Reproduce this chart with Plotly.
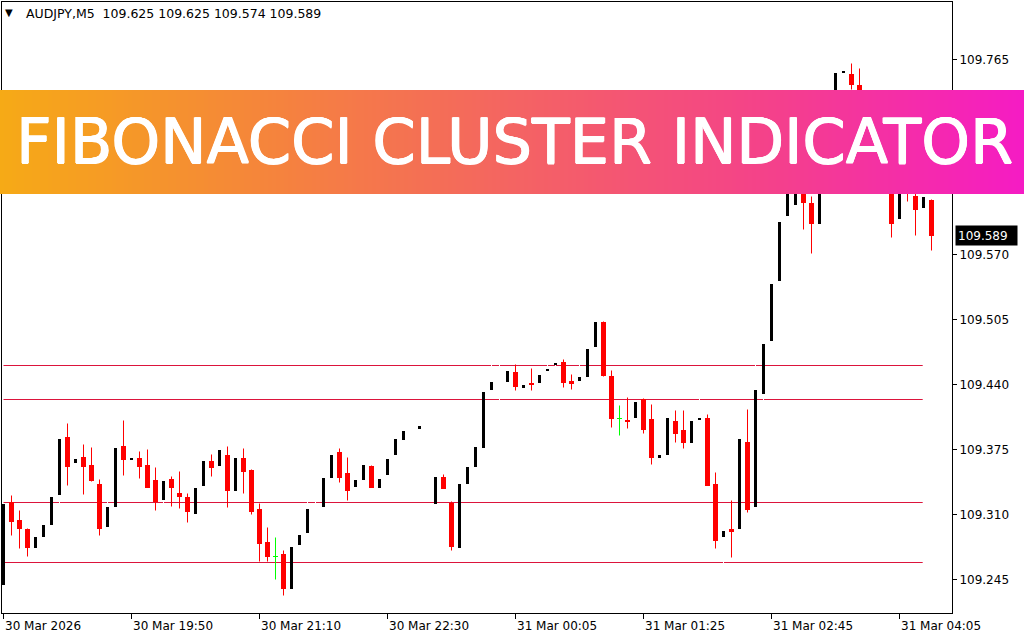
import plotly.graph_objects as go

# ---------------- data ----------------
symbol = "AUDJPY"
timeframe = "M5"

opens = [109.239, 109.323, 109.305, 109.296, 109.276, 109.287, 109.299, 109.329, 109.388, 109.361,
         109.368, 109.360, 109.341, 109.297, 109.317, 109.379, 109.364, 109.367, 109.360, 109.345,
         109.324, 109.346, 109.332, 109.328, 109.310, 109.338, 109.364, 109.358, 109.370, 109.333,
         109.367, 109.355, 109.316, 109.283, 109.268, 109.271, 109.235, 109.279, 109.291, 109.320,
         109.317, 109.346, 109.373, 109.352, 109.337, 109.344, 109.359, 109.336, 109.349, 109.369,
         109.384, 109.395, 109.395, 109.398, 109.320, 109.348, 109.322, 109.276, 109.340, 109.357,
         109.376, 109.434, 109.444, 109.442, 109.453, 109.436, 109.442, 109.441, 109.453, 109.459,
         109.463, 109.444, 109.443, 109.447, 109.477, 109.503, 109.449, 109.406, 109.405, 109.406,
         109.426, 109.406, 109.366, 109.369, 109.404, 109.395, 109.381, 109.404, 109.407, 109.341,
         109.287, 109.296, 109.295, 109.383, 109.317, 109.430, 109.483, 109.543, 109.608, 109.619,
         109.688, 109.622, 109.600, 109.698, 109.712, 109.751, 109.751, 109.740, 109.700, 109.664,
         109.680, 109.645, 109.605, 109.650, 109.629, 109.616, 109.625]

highs = [109.322, 109.329, 109.314, 109.296, 109.289, 109.301, 109.329, 109.387, 109.401, 109.367,
         109.380, 109.377, 109.345, 109.325, 109.378, 109.404, 109.367, 109.373, 109.375, 109.357,
         109.345, 109.348, 109.353, 109.331, 109.338, 109.365, 109.370, 109.376, 109.378, 109.368,
         109.376, 109.355, 109.321, 109.297, 109.287, 109.274, 109.279, 109.291, 109.325, 109.326,
         109.348, 109.371, 109.376, 109.367, 109.346, 109.361, 109.359, 109.347, 109.367, 109.387,
         109.395, 109.396, 109.400, 109.399, 109.349, 109.350, 109.323, 109.342, 109.359, 109.379,
         109.434, 109.461, 109.461, 109.455, 109.460, 109.441, 109.456, 109.451, 109.461, 109.462,
         109.465, 109.450, 109.461, 109.477, 109.504, 109.503, 109.454, 109.419, 109.427, 109.424,
         109.426, 109.420, 109.371, 109.408, 109.414, 109.414, 109.405, 109.428, 109.410, 109.352,
         109.295, 109.324, 109.387, 109.415, 109.461, 109.482, 109.542, 109.604, 109.668, 109.690,
         109.700, 109.628, 109.700, 109.712, 109.753, 109.755, 109.761, 109.756, 109.705, 109.680,
         109.685, 109.650, 109.650, 109.660, 109.640, 109.629, 109.625]

lows = [109.239, 109.289, 109.276, 109.268, 109.276, 109.287, 109.299, 109.318, 109.339, 109.361,
        109.330, 109.343, 109.289, 109.297, 109.317, 109.349, 109.364, 109.346, 109.337, 109.314,
        109.318, 109.318, 109.316, 109.302, 109.310, 109.338, 109.348, 109.358, 109.317, 109.333,
        109.331, 109.310, 109.263, 109.263, 109.245, 109.229, 109.235, 109.279, 109.291, 109.318,
        109.317, 109.346, 109.342, 109.324, 109.337, 109.344, 109.337, 109.336, 109.349, 109.369,
        109.384, 109.395, 109.395, 109.398, 109.320, 109.336, 109.274, 109.276, 109.340, 109.357,
        109.376, 109.434, 109.423, 109.442, 109.434, 109.436, 109.434, 109.441, 109.453, 109.459,
        109.437, 109.435, 109.443, 109.447, 109.477, 109.448, 109.397, 109.389, 109.396, 109.406,
        109.391, 109.360, 109.366, 109.369, 109.382, 109.376, 109.381, 109.404, 109.339, 109.276,
        109.260, 109.267, 109.295, 109.312, 109.317, 109.423, 109.483, 109.543, 109.608, 109.619,
        109.595, 109.571, 109.600, 109.698, 109.712, 109.751, 109.735, 109.690, 109.655, 109.664,
        109.640, 109.587, 109.605, 109.623, 109.589, 109.616, 109.574]

closes = [109.322, 109.303, 109.296, 109.277, 109.289, 109.301, 109.329, 109.387, 109.358, 109.367,
          109.358, 109.344, 109.296, 109.319, 109.378, 109.365, 109.367, 109.358, 109.337, 109.323,
          109.345, 109.337, 109.328, 109.313, 109.338, 109.365, 109.357, 109.376, 109.334, 109.368,
          109.353, 109.313, 109.281, 109.268, 109.268, 109.236, 109.279, 109.291, 109.317, 109.321,
          109.348, 109.371, 109.347, 109.334, 109.346, 109.361, 109.337, 109.347, 109.367, 109.387,
          109.395, 109.396, 109.400, 109.399, 109.349, 109.336, 109.278, 109.342, 109.359, 109.379,
          109.434, 109.444, 109.445, 109.455, 109.438, 109.441, 109.440, 109.451, 109.456, 109.462,
          109.442, 109.441, 109.449, 109.477, 109.504, 109.449, 109.406, 109.406, 109.403, 109.424,
          109.395, 109.367, 109.371, 109.408, 109.391, 109.382, 109.405, 109.407, 109.339, 109.284,
          109.295, 109.293, 109.387, 109.315, 109.436, 109.482, 109.542, 109.604, 109.668, 109.690,
          109.622, 109.601, 109.700, 109.712, 109.753, 109.755, 109.740, 109.700, 109.665, 109.680,
          109.645, 109.601, 109.650, 109.636, 109.615, 109.629, 109.589]

time_tick_bars = [0, 16, 32, 48, 64, 80, 96, 112]
time_tick_labels = ["30 Mar 2026", "30 Mar 19:50", "30 Mar 21:10", "30 Mar 22:30",
                    "31 Mar 00:05", "31 Mar 01:25", "31 Mar 02:45", "31 Mar 04:05"]
price_ticks = [109.245, 109.310, 109.375, 109.440, 109.505, 109.570, 109.765]
fib_levels = [109.459, 109.425, 109.322, 109.262]
fib_line_start_bar = 0
fib_line_end_bar = 114.9

banner_title = "FIBONACCI CLUSTER INDICATOR"

# ---------------- geometry / style ----------------
W, H = 1024, 640
PL, PR, PT, PB = 2, 952, 2, 613                    # plot box in pixels
BAR_PX = 8.0
X0_PX = 3.5                                        # centre of first bar
PX_PER_PRICE = 1000.0
PRICE_AT_Y0 = 109.8245
y_top = PRICE_AT_Y0 - PT / PX_PER_PRICE
y_bot = PRICE_AT_Y0 - PB / PX_PER_PRICE
x_lo = (PL - X0_PX) / BAR_PX
x_hi = (PR - X0_PX) / BAR_PX
one_px = 1.0 / PX_PER_PRICE

WICK_W = 1 / BAR_PX
BULL_W = 3 / BAR_PX
BEAR_W = 5 / BAR_PX
RED = "#FF0000"
GREEN = "#00FF00"
LINE_RED = "#DC143C"

n = len(opens)
idx = list(range(n))
kind = ["bull" if c > o else ("bear" if c < o else "doji") for o, c in zip(opens, closes)]

bull = [i for i in idx if kind[i] == "bull"]
bear = [i for i in idx if kind[i] == "bear"]
doji = [i for i in idx if kind[i] == "doji"]

fig = go.Figure()

# white wicks of bull candles (drawn as 1px bars so the black bodies sit on top)
fig.add_trace(go.Bar(
    x=bull, base=[lows[i] for i in bull], y=[highs[i] - lows[i] for i in bull],
    width=WICK_W, marker=dict(color="#FFFFFF", line=dict(width=0)),
    hoverinfo="skip", showlegend=False))

# bull bodies: black fill inside a 1px white outline
fig.add_trace(go.Bar(
    x=bull,
    base=[opens[i] + one_px for i in bull],
    y=[max(closes[i] - opens[i] - 2 * one_px, 0) for i in bull],
    width=BULL_W, marker=dict(color="#000000", line=dict(width=0)),
    hoverinfo="skip", showlegend=False))

# bear bodies
fig.add_trace(go.Bar(
    x=bear,
    base=[closes[i] for i in bear],
    y=[max(opens[i] - closes[i], one_px) for i in bear],
    width=BEAR_W, marker=dict(color=RED, line=dict(width=0)),
    hoverinfo="skip", showlegend=False))


def wick_trace(sel, color):
    xs, ys = [], []
    for i in sel:
        xs += [i, i, None]
        ys += [lows[i], highs[i], None]
    return go.Scatter(x=xs, y=ys, mode="lines", line=dict(color=color, width=1),
                      hoverinfo="skip", showlegend=False)


fig.add_trace(wick_trace(bear, RED))
fig.add_trace(wick_trace(doji, GREEN))

# doji horizontal ticks
dx, dy = [], []
for i in doji:
    dx += [i - BEAR_W / 2, i + BEAR_W / 2, None]
    dy += [opens[i], opens[i], None]
fig.add_trace(go.Scatter(x=dx, y=dy, mode="lines", line=dict(color=GREEN, width=1),
                         hoverinfo="skip", showlegend=False))

# fibonacci cluster lines
for lv in fib_levels:
    fig.add_shape(type="line", xref="x", yref="y", x0=fib_line_start_bar, x1=fib_line_end_bar,
                  y0=lv, y1=lv, line=dict(color=LINE_RED, width=1), layer="below")

# banner gradient (orange -> magenta)
stops = [(0.0, (246, 170, 22)), (0.25, (245, 134, 58)), (0.5, (244, 100, 98)),
         (0.76, (244, 64, 140)), (1.0, (245, 27, 196))]


def grad(t):
    for (t0, c0), (t1, c1) in zip(stops[:-1], stops[1:]):
        if t <= t1:
            f = (t - t0) / (t1 - t0)
            return "rgb(%d,%d,%d)" % tuple(round(a + (b - a) * f) for a, b in zip(c0, c1))
    return "rgb(%d,%d,%d)" % stops[-1][1]


BANNER_TOP, BANNER_BOT = 90, 194
NSTRIP = 256
sw = W / NSTRIP
for k in range(NSTRIP):
    t = (k + 0.5) / NSTRIP
    fig.add_shape(type="rect", xref="paper", yref="paper",
                  x0=k * sw / W, x1=min((k + 1) * sw + 0.6, W) / W,
                  y0=1 - BANNER_BOT / H, y1=1 - BANNER_TOP / H,
                  fillcolor=grad(t), line=dict(width=0), layer="above")

fig.add_annotation(text=banner_title, xref="paper", yref="paper", x=514 / W, y=1 - 141 / H,
                   xanchor="center", yanchor="middle", showarrow=False,
                   font=dict(family="DejaVu Sans", size=62, color="white",
                             shadow="0.6px 0 0 white, -0.6px 0 0 white, 0 0.5px 0 white, 0 -0.5px 0 white"))

# header
fig.add_annotation(text="▼", xref="paper", yref="paper", x=9 / W, y=1 - 13 / H,
                   xanchor="center", yanchor="middle", showarrow=False,
                   font=dict(family="DejaVu Sans", size=10, color="black"))
header = "%s,%s  %.3f %.3f %.3f %.3f" % (symbol, timeframe, opens[-1], highs[-1], lows[-1], closes[-1])
fig.add_annotation(text=header, xref="paper", yref="paper", x=24 / W, y=1 - 14 / H,
                   xanchor="left", yanchor="middle", showarrow=False,
                   font=dict(family="DejaVu Sans", size=12.5, color="black"))

# time labels (left aligned at ticks)
for b, lab in zip(time_tick_bars, time_tick_labels):
    fig.add_annotation(text=lab, xref="x", yref="paper", x=b - 0.06, y=1 - 626 / H,
                       xanchor="left", yanchor="middle", showarrow=False,
                       font=dict(family="DejaVu Sans", size=12, color="black"))

# current price box
fig.add_annotation(text="%.3f" % closes[-1], xref="paper", yref="y", x=955 / W, y=closes[-1],
                   xanchor="left", yanchor="middle", showarrow=False,
                   bgcolor="black", borderpad=2, width=57, height=15, align="left",
                   font=dict(family="DejaVu Sans", size=12, color="white"))

fig.update_layout(
    width=W, height=H, margin=dict(l=0, r=0, t=0, b=0, pad=0),
    paper_bgcolor="white", plot_bgcolor="white",
    barmode="overlay", bargap=0, showlegend=False,
    xaxis=dict(domain=[PL / W, PR / W], range=[x_lo, x_hi], showgrid=False, zeroline=False,
               showline=True, linecolor="black", linewidth=1, mirror=True,
               ticks="outside", ticklen=5, tickcolor="black", tickwidth=1,
               tickvals=time_tick_bars, showticklabels=False),
    yaxis=dict(domain=[1 - PB / H, 1 - PT / H], range=[y_bot, y_top], side="right",
               showgrid=False, zeroline=False, showline=True, linecolor="black", linewidth=1,
               mirror=True, ticks="outside", ticklen=4, tickcolor="black", tickwidth=1,
               tickvals=price_ticks, tickformat=".3f",
               tickfont=dict(family="DejaVu Sans", size=12, color="black")),
)

fig.write_html("out.html", config={"displayModeBar": False},
               post_script="document.body.style.margin='0';")
